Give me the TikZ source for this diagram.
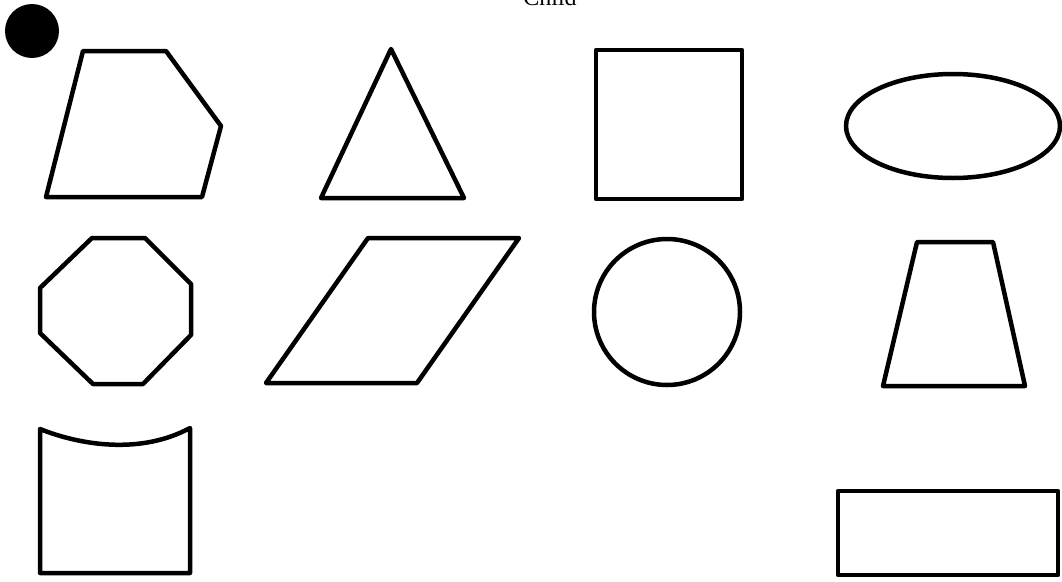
\documentclass[tikz,border=0pt]{standalone}
\usepackage{fontspec}
\setmainfont{Liberation Serif}
\begin{document}
\begin{tikzpicture}[x=1pt,y=-1pt,
  shapeline/.style={draw=black,line width=4.5pt,line join=round,line cap=round}]
\useasboundingbox[fill=white] (0,0) rectangle (1062,581);
% title (cut at the top edge)
\node[anchor=base,font=\fontsize{24}{26}\selectfont,inner sep=0pt] (title) at (550,5) {Child};
% black dot
\fill[black] (32,31) circle[radius=27];
% irregular pentagon
\draw[shapeline] (83,51) -- (166,51) -- (221,126) -- (202,197) -- (46,197) -- cycle;
% triangle
\draw[shapeline] (391,49) -- (464,198) -- (321,198) -- cycle;
% square
\draw[shapeline] (596,50) rectangle (742,199);
% ellipse
\draw[shapeline] (953,126) ellipse[x radius=107, y radius=52];
% octagon
\draw[shapeline] (92,238) -- (145,238) -- (191,284) -- (191,335) -- (143,384) -- (93,384) -- (40,333) -- (40,288) -- cycle;
% parallelogram
\draw[shapeline] (368,238) -- (519,238) -- (417,383) -- (266,383) -- cycle;
% circle
\draw[shapeline] (667,312) circle[radius=73];
% trapezoid
\draw[shapeline] (917,242) -- (993,242) -- (1025,386) -- (883,386) -- cycle;
% square with curved top
\draw[shapeline] (40,429) .. controls (80,445) and (140,455) .. (190,428) -- (190,573) -- (40,573) -- cycle;
% rectangle
\draw[shapeline] (838,491) rectangle (1058,575);
\end{tikzpicture}
\end{document}
